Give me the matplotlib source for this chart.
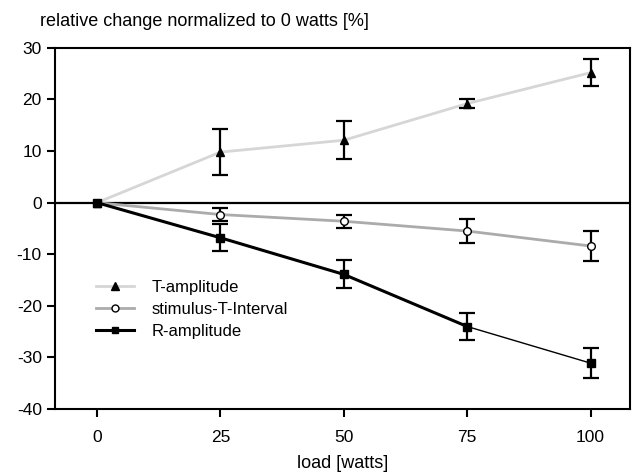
import matplotlib

matplotlib.use("Agg")
import matplotlib.pyplot as plt
from matplotlib.lines import Line2D

plt.rcParams["font.family"] = ["Liberation Sans", "DejaVu Sans"]
plt.rcParams["axes.unicode_minus"] = False

# load levels [watts]
loads = [0, 25, 50, 75, 100]

# relative change normalized to 0 watts [%], mean and error
t_amp = [0, 9.8, 12.1, 19.2, 25.2]
t_amp_err = [0, 4.4, 3.7, 0.9, 2.6]

stim_t = [0, -2.3, -3.6, -5.5, -8.4]
stim_t_err = [0, 1.3, 1.3, 2.3, 2.9]

r_amp = [0, -6.8, -13.9, -24.0, -31.1]
r_amp_err = [0, 2.6, 2.7, 2.6, 2.9]

xticks = [0, 25, 50, 75, 100]
yticks = [30, 20, 10, 0, -10, -20, -30, -40]

fig = plt.figure(figsize=(6.32, 4.74), dpi=100)
ax = fig.add_axes([0.087, 0.137, 0.910, 0.762])

ax.axhline(0, color="black", linewidth=1.6, zorder=1)

# connecting lines
ax.plot(loads, t_amp, color="#d6d6d6", linewidth=2.0, zorder=2)
ax.plot(loads, stim_t, color="#ababab", linewidth=2.0, zorder=2)
ax.plot(loads[:4], r_amp[:4], color="black", linewidth=2.2, zorder=2)
ax.plot(loads[3:], r_amp[3:], color="black", linewidth=1.0, zorder=2)

err_kw = dict(fmt="none", ecolor="black", elinewidth=1.6, capsize=5.5,
              capthick=1.6, zorder=3)
ax.errorbar(loads[1:], t_amp[1:], yerr=t_amp_err[1:], **err_kw)
ax.errorbar(loads[1:], stim_t[1:], yerr=stim_t_err[1:], **err_kw)
ax.errorbar(loads[1:], r_amp[1:], yerr=r_amp_err[1:], **err_kw)

ax.plot(loads, t_amp, linestyle="none", marker="^", markersize=6.2,
        color="black", zorder=4)
ax.plot(loads, stim_t, linestyle="none", marker="o", markersize=5.5,
        markerfacecolor="white", markeredgecolor="black",
        markeredgewidth=1.0, zorder=4)
ax.plot(loads, r_amp, linestyle="none", marker="s", markersize=5.6,
        color="black", zorder=5)

ax.set_xlim(-8.5, 108)
ax.set_ylim(-40, 30)
ax.set_xticks(xticks)
ax.set_yticks(yticks)
ax.tick_params(direction="out", length=6, width=1.5, labelsize=12.5,
               colors="black")
ax.tick_params(axis="x", pad=9)
for s in ax.spines.values():
    s.set_linewidth(1.5)
    s.set_color("black")

ax.set_xlabel("load [watts]", fontsize=13, labelpad=7)
fig.text(0.063, 0.955, "relative change normalized to 0 watts [%]",
         fontsize=13, ha="left", va="center")

handles = [
    Line2D([], [], color="#d6d6d6", linewidth=2, marker="^", markersize=5.5,
           markerfacecolor="black", markeredgecolor="black"),
    Line2D([], [], color="#ababab", linewidth=2, marker="o", markersize=5,
           markerfacecolor="white", markeredgecolor="black"),
    Line2D([], [], color="black", linewidth=2.2, marker="s", markersize=5,
           markerfacecolor="black", markeredgecolor="black"),
]
labels = ["T-amplitude", "stimulus-T-Interval", "R-amplitude"]
ax.legend(handles, labels, loc="upper left", bbox_to_anchor=(0.06, 0.375),
          frameon=False, fontsize=12, handlelength=2.3, handletextpad=1.0,
          labelspacing=0.4, borderaxespad=0)

fig.savefig("out.png", dpi=100)
